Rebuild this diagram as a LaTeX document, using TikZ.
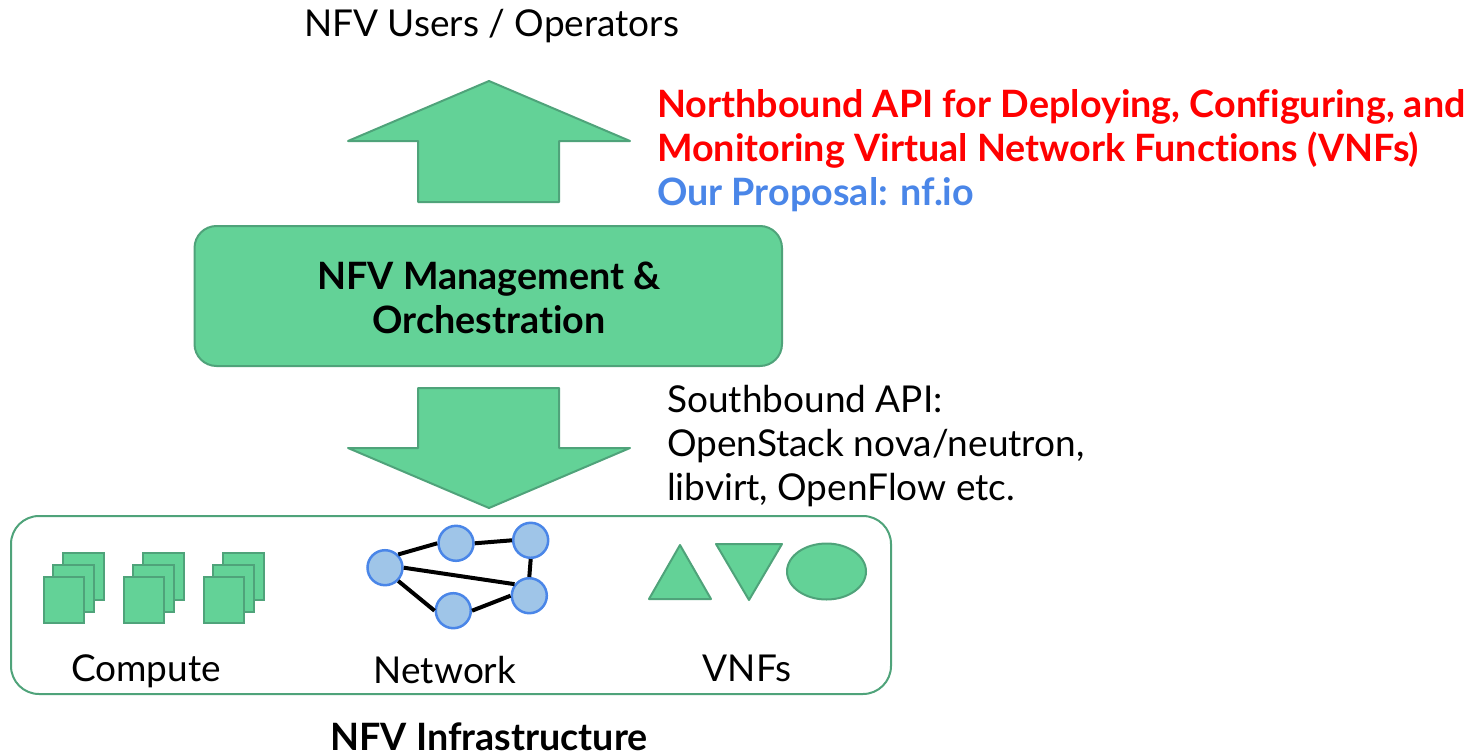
\documentclass[tikz,border=0pt]{standalone}
\usepackage{fontspec}
\setmainfont[Ligatures=NoCommon]{Lato}
\usepackage{xcolor}
\usepackage{tikz}
\definecolor{nfvgreen}{HTML}{63D297}
\definecolor{nfvline}{HTML}{4FA37A}
\definecolor{nfvblue}{HTML}{9FC5E8}
\definecolor{nfvlink}{HTML}{4A86E8}

\begin{document}
\begin{tikzpicture}[
    x=1pt,y=-1pt,
    greenshape/.style={draw=nfvline,fill=nfvgreen,line width=2pt,line join=round},
    host/.style={draw=nfvline,fill=nfvgreen,line width=2.5pt},
    router/.style={circle,draw=nfvlink,fill=nfvblue,line width=2.5pt,minimum size=35pt,inner sep=0pt},
    link/.style={line width=4pt,black},
    txt/.style={anchor=base west,inner sep=0pt,font=\fontsize{37}{44}\selectfont},
    boldtxt/.style={txt,font=\fontsize{37.7}{44}\selectfont\bfseries}
]
    \useasboundingbox (0,0) rectangle (1474,752);

    \node[txt] (users) at (304,36.5) {NFV Users / Operators};
    \node[boldtxt,text=red] (north1) at (657,117) {Northbound API for Deploying, Configuring, and};
    \node[boldtxt,text=red] (north2) at (657,161) {Monitoring Virtual Network Functions (VNFs)};
    \node[boldtxt,text=nfvlink] (proposal) at (657,205) {Our Proposal: nf.io};

    % arrows
    \draw[greenshape] (489,81) -- (630,141) -- (559,141) -- (559,202) -- (418,202) -- (418,141) -- (348,141) -- cycle;
    \draw[greenshape] (489,508) -- (630,448) -- (559,448) -- (559,388) -- (418,388) -- (418,448) -- (348,448) -- cycle;

    \draw[greenshape,rounded corners=22pt] (194.5,226) rectangle (782,366);
    \node[boldtxt,anchor=base] (mano1) at (489,289) {NFV Management \&};
    \node[boldtxt,anchor=base] (mano2) at (489,333) {Orchestration};

    \node[txt] (south1) at (667,412) {Southbound API:};
    \node[txt] (south2) at (667,456) {OpenStack nova/neutron,};
    \node[txt] (south3) at (667,500) {libvirt, OpenFlow etc.};

    \draw[draw=nfvline,line width=2pt,rounded corners=28pt] (11,516) rectangle (891,694);

    % compute
    \foreach \Offset in {0,80,160}
    {
        \draw[host] (63+\Offset,553) rectangle (104+\Offset,600);
        \draw[host] (53+\Offset,565) rectangle (94+\Offset,612);
        \draw[host] (44+\Offset,577) rectangle (84+\Offset,623);
    }

    % network
    \node[router] (r1) at (385,567.7) {};
    \node[router] (r2) at (456,543.3) {};
    \node[router] (r3) at (530.7,540.3) {};
    \node[router] (r4) at (529.3,595.7) {};
    \node[router] (r5) at (453.3,610.7) {};
    \foreach \From/\To in {r1.45/r2.west,r2.east/r3.west,r3.south/r4.north,r1.east/r4.142,r1.-45/r5.west,r5.east/r4.west}
    \draw[link] (\From) -- (\To);

    % vnfs
    \draw[greenshape] (680,545) -- (711,599) -- (649,599) -- cycle;
    \draw[greenshape] (716,544) -- (782,544) -- (749,600) -- cycle;
    \draw[greenshape] (826.5,571.5) ellipse (39.5 and 28);

    \node[txt,anchor=base] (compute) at (146,681) {Compute};
    \node[txt,anchor=base] (network) at (445,683) {Network};
    \node[txt,anchor=base] (vnfs) at (747,681) {VNFs};
    \node[boldtxt,anchor=base] (infra) at (489,750) {NFV Infrastructure};
\end{tikzpicture}
\end{document}
